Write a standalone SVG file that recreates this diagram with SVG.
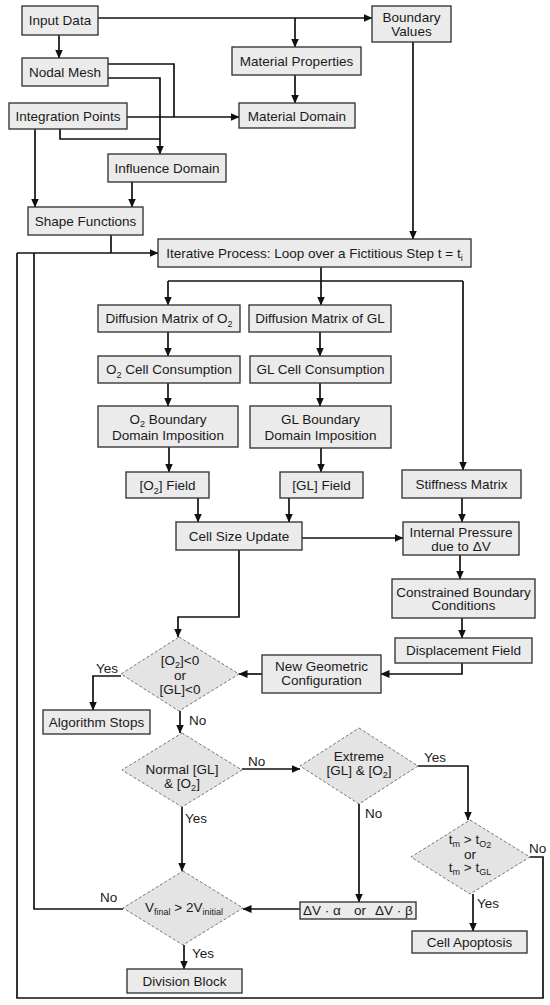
<svg xmlns="http://www.w3.org/2000/svg" width="550" height="1005" viewBox="0 0 550 1005">
<defs>
<marker id="ah" markerUnits="userSpaceOnUse" markerWidth="9" markerHeight="9" refX="8.5" refY="4.5" orient="auto" viewBox="0 0 9 9"><path d="M0,0.5 L9,4.5 L0,8.5 z" fill="#111"/></marker>
</defs>
<style>
.box{fill:#ebebeb;stroke:#3a3a3a;stroke-width:1.4}
.dia{fill:#e4e4e4;stroke:#777;stroke-width:1;stroke-dasharray:3 2}
text{font-family:"Liberation Sans",Arial,sans-serif;font-size:13.5px;fill:#1a1a1a;text-anchor:middle}
text.lbl{text-anchor:start}
.sub{font-size:9px}
.c{fill:none;stroke:#111;stroke-width:1.7}
.a{marker-end:url(#ah)}
</style>
<rect width="550" height="1005" fill="#fff"/>

<g id="connectors">
<path class="c a" d="M98,18 H372"/>
<path class="c a" d="M295,18 V47"/>
<path class="c a" d="M295,75 V103"/>
<path class="c a" d="M59,35 V58"/>
<path class="c" d="M108,64 H174 V117"/>
<path class="c a" d="M108,78 H160 V154"/>
<path class="c a" d="M127,117 H239"/>
<path class="c" d="M60,129 V139 H160"/>
<path class="c a" d="M35,129 V207"/>
<path class="c a" d="M132,182 V207"/>
<path class="c" d="M111,235 V253"/>
<path class="c a" d="M17,253 H158"/>
<path class="c a" d="M413,42 V239"/>
<path class="c" d="M321,267 V281 M168,281 H463"/>
<path class="c a" d="M168,281 V305"/>
<path class="c a" d="M321,281 V305"/>
<path class="c a" d="M463,281 V470"/>
<path class="c a" d="M168,332 V356"/>
<path class="c a" d="M320,332 V356"/>
<path class="c a" d="M168,383 V406"/>
<path class="c a" d="M320,383 V406"/>
<path class="c a" d="M169,447 V472"/>
<path class="c a" d="M321,448 V472"/>
<path class="c a" d="M198,498 V522"/>
<path class="c a" d="M289,498 V522"/>
<path class="c a" d="M302,538 H403"/>
<path class="c a" d="M462,498 V522"/>
<path class="c a" d="M460,555 V579"/>
<path class="c a" d="M462,618 V638"/>
<path class="c a" d="M462,663 V674 H381"/>
<path class="c a" d="M262,674 H239"/>
<path class="c a" d="M239,550 V617 H178 V637"/>
<path class="c a" d="M121,676 H93 V710"/>
<path class="c a" d="M180,711 V733"/>
<path class="c a" d="M242,769 H300"/>
<path class="c a" d="M418,766 H468 V820"/>
<path class="c a" d="M359,804 V902"/>
<path class="c a" d="M182,807 V871"/>
<path class="c a" d="M300,909 H243"/>
<path class="c" d="M123,909 H34 V253"/>
<path class="c a" d="M184,945 V969"/>
<path class="c a" d="M473,894 V931"/>
<path class="c" d="M530,857 H543 V998 H17 V253"/>
<text class="lbl" x="96" y="673">Yes</text>
<text class="lbl" x="189" y="725">No</text>
<text class="lbl" x="248" y="766">No</text>
<text class="lbl" x="424" y="762">Yes</text>
<text class="lbl" x="365" y="818">No</text>
<text class="lbl" x="185" y="823">Yes</text>
<text class="lbl" x="100" y="902">No</text>
<text class="lbl" x="192" y="958">Yes</text>
<text class="lbl" x="477" y="908">Yes</text>
<text class="lbl" x="529" y="853">No</text>
</g>

<g id="input-data"><rect class="box" x="22" y="6" width="76" height="29"/><text x="60" y="25">Input Data</text></g>
<g id="boundary-values"><rect class="box" x="372" y="6" width="79" height="36"/><text x="411.5" y="22">Boundary</text><text x="411.5" y="36">Values</text></g>
<g id="material-properties"><rect class="box" x="232" y="47" width="129" height="28"/><text x="296.5" y="66">Material Properties</text></g>
<g id="nodal-mesh"><rect class="box" x="22" y="58" width="86" height="28"/><text x="65" y="77">Nodal Mesh</text></g>
<g id="integration-points"><rect class="box" x="9" y="103" width="118" height="26"/><text x="68" y="121">Integration Points</text></g>
<g id="material-domain"><rect class="box" x="239" y="103" width="116" height="25"/><text x="297" y="121">Material Domain</text></g>
<g id="influence-domain"><rect class="box" x="108" y="154" width="118" height="28"/><text x="167" y="173">Influence Domain</text></g>
<g id="shape-functions"><rect class="box" x="28" y="207" width="115" height="28"/><text x="85.5" y="226">Shape Functions</text></g>
<g id="iterative-process"><rect class="box" x="158" y="239" width="313" height="28"/><text x="314.5" y="258">Iterative Process: Loop over a Fictitious Step t = t<tspan class="sub" dy="3">i</tspan></text></g>
<g id="diffusion-o2"><rect class="box" x="98" y="305" width="142" height="27"/><text x="169" y="323">Diffusion Matrix of O<tspan class="sub" dy="3.5">2</tspan></text></g>
<g id="diffusion-gl"><rect class="box" x="249" y="305" width="142" height="27"/><text x="320" y="323">Diffusion Matrix of GL</text></g>
<g id="o2-consumption"><rect class="box" x="98" y="356" width="142" height="27"/><text x="169" y="374">O<tspan class="sub" dy="3.5">2</tspan><tspan dy="-3.5"> Cell Consumption</tspan></text></g>
<g id="gl-consumption"><rect class="box" x="250" y="356" width="141" height="27"/><text x="320.5" y="374">GL Cell Consumption</text></g>
<g id="o2-boundary"><rect class="box" x="98" y="406" width="140" height="41"/><text x="168" y="424">O<tspan class="sub" dy="3">2</tspan><tspan dy="-3"> Boundary</tspan></text><text x="168" y="440">Domain Imposition</text></g>
<g id="gl-boundary"><rect class="box" x="250" y="406" width="141" height="42"/><text x="320.5" y="424">GL Boundary</text><text x="320.5" y="440">Domain Imposition</text></g>
<g id="o2-field"><rect class="box" x="126" y="472" width="83" height="26"/><text x="167.5" y="490">[O<tspan class="sub" dy="3.5">2</tspan><tspan dy="-3.5">] Field</tspan></text></g>
<g id="gl-field"><rect class="box" x="280" y="472" width="83" height="26"/><text x="321.5" y="490">[GL] Field</text></g>
<g id="stiffness-matrix"><rect class="box" x="402" y="470" width="119" height="28"/><text x="461.5" y="489">Stiffness Matrix</text></g>
<g id="cell-size-update"><rect class="box" x="176" y="522" width="126" height="28"/><text x="239" y="541">Cell Size Update</text></g>
<g id="internal-pressure"><rect class="box" x="403" y="522" width="116" height="33"/><text x="461" y="537">Internal Pressure</text><text x="461" y="551">due to ΔV</text></g>
<g id="constrained-bc"><rect class="box" x="392" y="579" width="143" height="39"/><text x="463.5" y="597">Constrained Boundary</text><text x="463.5" y="610">Conditions</text></g>
<g id="displacement-field"><rect class="box" x="395" y="638" width="137" height="25"/><text x="463.5" y="655">Displacement Field</text></g>
<g id="new-geometric"><rect class="box" x="262" y="655" width="119" height="38"/><text x="321.5" y="671">New Geometric</text><text x="321.5" y="685">Configuration</text></g>
<g id="check-negative"><path class="dia" d="M179,637 L239,674 L179,711 L121,674 Z"/><text x="180" y="665">[O<tspan class="sub" dy="3">2</tspan><tspan dy="-3">]&lt;0</tspan></text><text x="180" y="680">or</text><text x="180" y="694">[GL]&lt;0</text></g>
<g id="algorithm-stops"><rect class="box" x="43" y="710" width="107" height="24"/><text x="96.5" y="727">Algorithm Stops</text></g>
<g id="normal-check"><path class="dia" d="M182,733 L242,770 L182,807 L122,770 Z"/><text x="182" y="774">Normal [GL]</text><text x="182" y="788">&amp; [O<tspan class="sub" dy="3">2</tspan><tspan dy="-3">]</tspan></text></g>
<g id="extreme-check"><path class="dia" d="M359,728 L418,766 L359,804 L300,766 Z"/><text x="359" y="761">Extreme</text><text x="359" y="775">[GL] &amp; [O<tspan class="sub" dy="3">2</tspan><tspan dy="-3">]</tspan></text></g>
<g id="time-check"><path class="dia" d="M470,820 L530,857 L470,894 L411,857 Z"/><text x="470" y="844">t<tspan class="sub" dy="2.5">m</tspan><tspan dy="-2.5"> &gt; t</tspan><tspan class="sub" dy="2.5">O</tspan><tspan class="sub" font-size="6.5" dy="1.5">2</tspan></text><text x="470" y="859">or</text><text x="470" y="872">t<tspan class="sub" dy="2.5">m</tspan><tspan dy="-2.5"> &gt; t</tspan><tspan class="sub" dy="2.5">GL</tspan></text></g>
<g id="delta-v"><rect class="box" x="300" y="902" width="116" height="17"/><text x="322" y="915">ΔV · α</text><text x="360" y="915">or</text><text x="394" y="915">ΔV · β</text></g>
<g id="volume-check"><path class="dia" d="M183,871 L243,908 L183,945 L123,908 Z"/><text x="184" y="912">V<tspan class="sub" dy="3">final</tspan><tspan dy="-3"> &gt; 2V</tspan><tspan class="sub" dy="3">initial</tspan></text></g>
<g id="cell-apoptosis"><rect class="box" x="412" y="931" width="115" height="22"/><text x="469.5" y="947">Cell Apoptosis</text></g>
<g id="division-block"><rect class="box" x="127" y="969" width="115" height="24"/><text x="184.5" y="986">Division Block</text></g>
</svg>
